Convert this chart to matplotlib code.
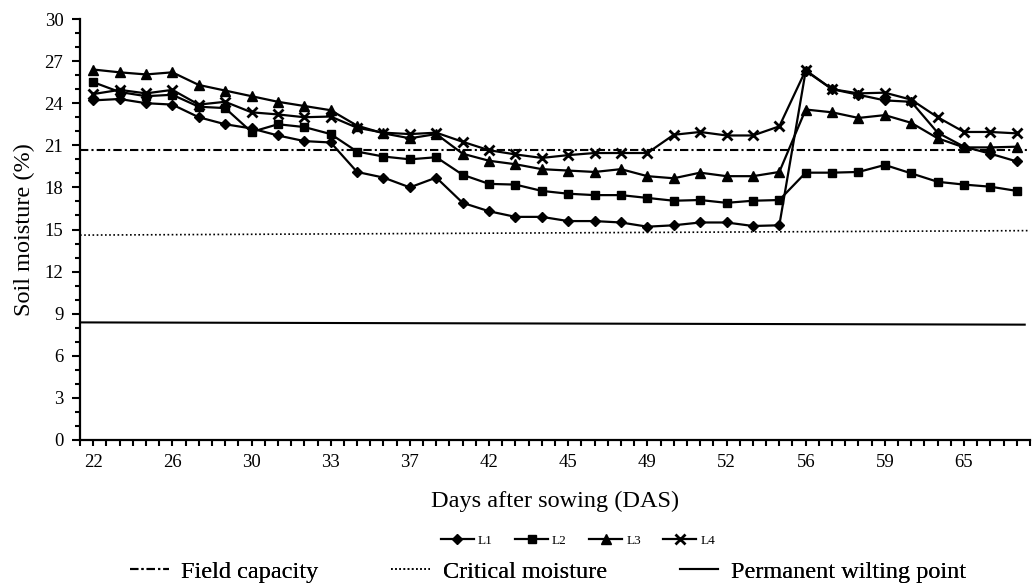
import numpy as np
import matplotlib
matplotlib.use("Agg")
import matplotlib.pyplot as plt
from matplotlib.lines import Line2D

plt.rcParams['font.family'] = ['Liberation Serif', 'DejaVu Serif']

# days after sowing (only every third one is labelled on the axis)
days = [22, 23, 25, 26, 27, 29, 30, 31, 32, 33, 35, 36,
        37, 39, 40, 42, 43, 44, 45, 46, 48, 49, 50, 51,
        52, 54, 55, 56, 57, 58, 59, 61, 63, 65, 66, 67]

# soil moisture (%) per treatment
L1 = [24.2, 24.3, 24.0, 23.9, 23.0, 22.5, 22.2, 21.7, 21.3, 21.2, 19.1, 18.7,
      18.0, 18.7, 16.9, 16.3, 15.9, 15.9, 15.6, 15.6, 15.5, 15.2, 15.3, 15.5,
      15.5, 15.25, 15.3, 26.3, 25.0, 24.6, 24.2, 24.1, 21.9, 20.9, 20.4, 19.85]
L2 = [25.5, 24.8, 24.5, 24.6, 23.75, 23.65, 21.95, 22.5, 22.3, 21.8, 20.55, 20.2,
      20.0, 20.15, 18.9, 18.25, 18.2, 17.75, 17.55, 17.45, 17.45, 17.25, 17.05, 17.1,
      16.9, 17.05, 17.1, 19.05, 19.05, 19.1, 19.6, 19.0, 18.4, 18.2, 18.05, 17.75]
L3 = [26.4, 26.2, 26.05, 26.2, 25.3, 24.9, 24.5, 24.1, 23.8, 23.5, 22.4, 21.85,
      21.5, 21.8, 20.4, 19.9, 19.65, 19.3, 19.2, 19.1, 19.3, 18.8, 18.65, 19.05,
      18.8, 18.8, 19.1, 23.55, 23.35, 22.95, 23.15, 22.6, 21.5, 20.85, 20.85, 20.9]
L4 = [24.65, 24.95, 24.7, 24.95, 23.9, 24.1, 23.35, 23.2, 23.0, 23.05, 22.25, 21.9,
      21.8, 21.9, 21.25, 20.65, 20.35, 20.1, 20.3, 20.45, 20.45, 20.45, 21.75, 21.95,
      21.7, 21.7, 22.35, 26.35, 25.0, 24.7, 24.75, 24.25, 23.0, 21.95, 21.95, 21.85]

# reference levels (start, end)
field_capacity = [20.7, 20.7]
critical_moisture = [14.6, 14.92]
wilting_point = [8.38, 8.22]

x = np.arange(len(days))

fig = plt.figure(figsize=(10.32, 5.86), dpi=100)
ax = fig.add_axes([80 / 1032, 146 / 586, 950 / 1032, 421 / 586])

lw = 1.6
ax.plot(x, L1, color='black', lw=lw, marker='D', ms=5.5, label='L1')
ax.plot(x, L2, color='black', lw=lw, marker='s', ms=6, label='L2')
ax.plot(x, L3, color='black', lw=lw, marker='^', ms=7.5, label='L3')
ax.plot(x, L4, color='black', lw=lw, marker='x', ms=7.5, mew=2, label='L4')

ends = [-0.5, len(days) - 0.5]
ax.plot(ends, field_capacity, color='black', lw=1.5, ls=(0, (4, 1.5, 1, 1.5)))
ax.plot(ends, critical_moisture, color='black', lw=1.2, ls=(0, (1, 1.5)))
ax.plot([-0.5, len(days) - 0.7], wilting_point, color='black', lw=1.5)

ax.set_xlim(-0.5, len(days) - 0.5)
ax.set_ylim(0, 30)
ax.set_yticks(np.arange(0, 31, 3))
ax.set_yticks(np.arange(0, 31, 1), minor=True)
ax.set_xticks(x[::3])
ax.set_xticklabels([str(d) for d in days[::3]])
ax.set_xticks(np.arange(-0.5, len(days), 0.5), minor=True)

for s in ['top', 'right']:
    ax.spines[s].set_visible(False)
for s in ['left', 'bottom']:
    ax.spines[s].set_linewidth(1.6)

ax.tick_params(axis='y', which='major', direction='out', length=6, width=1.5,
               labelsize=13.5, pad=6)
ax.tick_params(axis='y', which='minor', direction='out', length=3.5, width=1.5)
ax.tick_params(axis='x', which='both', direction='out', length=4, width=1.5)
ax.tick_params(axis='x', which='major', labelsize=13.5, pad=6)

ax.set_ylabel('Soil moisture (%)', fontsize=17.5, labelpad=7)
ax.set_xlabel('Days after sowing (DAS)', fontsize=17.5, labelpad=14)

fig.legend(loc='center', bbox_to_anchor=(0.560, 0.077), ncol=4, frameon=False,
           fontsize=9.5, handlelength=2.5, handletextpad=0.3, columnspacing=1.7,
           borderpad=0)

ref_handles = [
    Line2D([], [], color='black', lw=1.5, ls=(0, (4, 1.5, 1, 1.5))),
    Line2D([], [], color='black', lw=1.2, ls=(0, (1, 1.5))),
    Line2D([], [], color='black', lw=1.5),
]
ref_labels = ['Field capacity', 'Critical moisture', 'Permanent wilting point']
leg2 = plt.legend(ref_handles, ref_labels, loc='center', bbox_to_anchor=(0.531, 0.024),
                  bbox_transform=fig.transFigure, ncol=3, frameon=False,
                  fontsize=17.5, handlelength=1.6, handletextpad=0.5,
                  columnspacing=3.0, borderpad=0)
fig.add_artist(leg2)

fig.savefig('out.png', dpi=100)
